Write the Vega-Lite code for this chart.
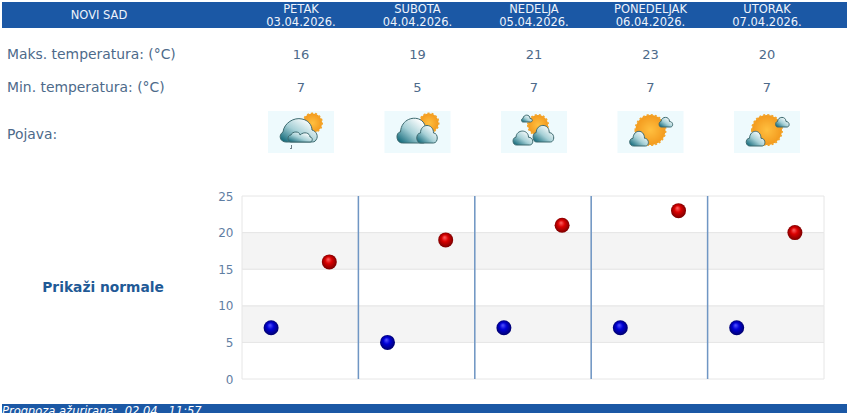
{
  "$schema": "https://vega.github.io/schema/vega-lite/v6.json",
  "width": 850,
  "height": 413,
  "padding": 0,
  "autosize": "none",
  "background": "white",
  "datasets": {
    "grid": [
      {"day": "PETAK", "from": 0, "to": 5, "band": "plain"},
      {"day": "PETAK", "from": 5, "to": 10, "band": "shaded"},
      {"day": "PETAK", "from": 10, "to": 15, "band": "plain"},
      {"day": "PETAK", "from": 15, "to": 20, "band": "shaded"},
      {"day": "PETAK", "from": 20, "to": 25, "band": "plain"},
      {"day": "SUBOTA", "from": 0, "to": 5, "band": "plain"},
      {"day": "SUBOTA", "from": 5, "to": 10, "band": "shaded"},
      {"day": "SUBOTA", "from": 10, "to": 15, "band": "plain"},
      {"day": "SUBOTA", "from": 15, "to": 20, "band": "shaded"},
      {"day": "SUBOTA", "from": 20, "to": 25, "band": "plain"},
      {"day": "NEDELJA", "from": 0, "to": 5, "band": "plain"},
      {"day": "NEDELJA", "from": 5, "to": 10, "band": "shaded"},
      {"day": "NEDELJA", "from": 10, "to": 15, "band": "plain"},
      {"day": "NEDELJA", "from": 15, "to": 20, "band": "shaded"},
      {"day": "NEDELJA", "from": 20, "to": 25, "band": "plain"},
      {"day": "PONEDELJAK", "from": 0, "to": 5, "band": "plain"},
      {"day": "PONEDELJAK", "from": 5, "to": 10, "band": "shaded"},
      {"day": "PONEDELJAK", "from": 10, "to": 15, "band": "plain"},
      {"day": "PONEDELJAK", "from": 15, "to": 20, "band": "shaded"},
      {"day": "PONEDELJAK", "from": 20, "to": 25, "band": "plain"},
      {"day": "UTORAK", "from": 0, "to": 5, "band": "plain"},
      {"day": "UTORAK", "from": 5, "to": 10, "band": "shaded"},
      {"day": "UTORAK", "from": 10, "to": 15, "band": "plain"},
      {"day": "UTORAK", "from": 15, "to": 20, "band": "shaded"},
      {"day": "UTORAK", "from": 20, "to": 25, "band": "plain"}
    ],
    "dividers": [
      {"day": "SUBOTA", "from": 0, "to": 25},
      {"day": "NEDELJA", "from": 0, "to": 25},
      {"day": "PONEDELJAK", "from": 0, "to": 25},
      {"day": "UTORAK", "from": 0, "to": 25}
    ],
    "temps": [
      {"day": "PETAK", "kind": "min", "t": 7},
      {"day": "PETAK", "kind": "max", "t": 16},
      {"day": "SUBOTA", "kind": "min", "t": 5},
      {"day": "SUBOTA", "kind": "max", "t": 19},
      {"day": "NEDELJA", "kind": "min", "t": 7},
      {"day": "NEDELJA", "kind": "max", "t": 21},
      {"day": "PONEDELJAK", "kind": "min", "t": 7},
      {"day": "PONEDELJAK", "kind": "max", "t": 23},
      {"day": "UTORAK", "kind": "min", "t": 7},
      {"day": "UTORAK", "kind": "max", "t": 20}
    ],
    "bars": [
      {"col": -1, "colEnd": 6, "row": 0, "rowEnd": 4},
      {"col": -1, "colEnd": 6, "row": 9, "rowEnd": 11}
    ],
    "headers": [
      {"col": 0.5, "row": 2, "label": "NOVI SAD"},
      {"col": 1, "row": 1, "label": "PETAK"},
      {"col": 1, "row": 3, "label": "03.04.2026."},
      {"col": 2, "row": 1, "label": "SUBOTA"},
      {"col": 2, "row": 3, "label": "04.04.2026."},
      {"col": 3, "row": 1, "label": "NEDELJA"},
      {"col": 3, "row": 3, "label": "05.04.2026."},
      {"col": 4, "row": 1, "label": "PONEDELJAK"},
      {"col": 4, "row": 3, "label": "06.04.2026."},
      {"col": 5, "row": 1, "label": "UTORAK"},
      {"col": 5, "row": 3, "label": "07.04.2026."}
    ],
    "rowLabels": [
      {"col": 0, "row": 5, "label": "Maks. temperatura: (°C)"},
      {"col": 0, "row": 6, "label": "Min. temperatura: (°C)"},
      {"col": 0, "row": 7, "label": "Pojava:"}
    ],
    "values": [
      {"col": 1, "row": 5, "value": 16},
      {"col": 2, "row": 5, "value": 19},
      {"col": 3, "row": 5, "value": 21},
      {"col": 4, "row": 5, "value": 23},
      {"col": 5, "row": 5, "value": 20},
      {"col": 1, "row": 6, "value": 7},
      {"col": 2, "row": 6, "value": 5},
      {"col": 3, "row": 6, "value": 7},
      {"col": 4, "row": 6, "value": 7},
      {"col": 5, "row": 6, "value": 7}
    ],
    "icons": [
      {"col": 1, "row": 7, "layer": "back", "part": "back"},
      {"col": 2, "row": 7, "layer": "back", "part": "back"},
      {"col": 3, "row": 7, "layer": "back", "part": "back"},
      {"col": 4, "row": 7, "layer": "back", "part": "back"},
      {"col": 5, "row": 7, "layer": "back", "part": "back"},
      {"col": 1, "row": 7, "layer": "sun", "part": "sunA"},
      {"col": 2, "row": 7, "layer": "sun", "part": "sunA"},
      {"col": 3, "row": 7, "layer": "sun", "part": "sunB"},
      {"col": 4, "row": 7, "layer": "sun", "part": "sunC"},
      {"col": 5, "row": 7, "layer": "sun", "part": "sunC"},
      {"col": 1, "row": 7, "layer": "cloud", "part": "cloudA"},
      {"col": 1, "row": 7, "layer": "cloud", "part": "cloudA2"},
      {"col": 2, "row": 7, "layer": "cloud", "part": "cloudB"},
      {"col": 2, "row": 7, "layer": "cloud", "part": "cloudB2"},
      {"col": 3, "row": 7, "layer": "cloud", "part": "puffB"},
      {"col": 3, "row": 7, "layer": "cloud", "part": "cloudC"},
      {"col": 3, "row": 7, "layer": "cloud", "part": "cloudC2"},
      {"col": 4, "row": 7, "layer": "cloud", "part": "puffD"},
      {"col": 4, "row": 7, "layer": "cloud", "part": "cloudD"},
      {"col": 5, "row": 7, "layer": "cloud", "part": "puffD"},
      {"col": 5, "row": 7, "layer": "cloud", "part": "cloudD"},
      {"col": 1, "row": 7, "layer": "rain", "part": "rain"}
    ]
  },
  "resolve": {
    "scale": {"x": "independent", "y": "independent"},
    "axis": {"x": "independent", "y": "independent"}
  },
  "layer": [
    {
      "encoding": {
        "x": {
          "field": "day",
          "type": "nominal",
          "sort": null,
          "axis": null,
          "scale": {
            "type": "band",
            "domain": ["PETAK", "SUBOTA", "NEDELJA", "PONEDELJAK", "UTORAK"],
            "range": [242, 824],
            "paddingInner": 0,
            "paddingOuter": 0
          }
        },
        "y": {
          "field": "from",
          "type": "quantitative",
          "scale": {"domain": [0, 25], "range": [379, 196], "nice": false},
          "axis": {
            "title": null,
            "values": [0, 5, 10, 15, 20, 25],
            "offset": -242,
            "domain": false,
            "ticks": false,
            "grid": false,
            "labelPadding": 9,
            "labelFont": "DejaVu Sans",
            "labelFontSize": 12,
            "labelColor": "#5f7ea3"
          }
        }
      },
      "layer": [
        {
          "data": {"name": "grid"},
          "mark": {"type": "rect", "stroke": "#e6e6e6", "strokeWidth": 1, "width": 116.4},
          "encoding": {
            "y2": {"field": "to"},
            "fill": {
              "field": "band",
              "type": "nominal",
              "legend": null,
              "scale": {"domain": ["plain", "shaded"], "range": ["#ffffff", "#f4f4f4"]}
            }
          }
        },
        {
          "data": {"name": "dividers"},
          "mark": {"type": "rule", "color": "#6f96c4", "strokeWidth": 1.5},
          "encoding": {
            "x": {
              "field": "day",
              "type": "nominal",
              "sort": null,
              "bandPosition": 0
            },
            "y2": {"field": "to"}
          }
        },
        {
          "data": {"name": "temps"},
          "transform": [{"filter": "datum.kind === 'min'"}],
          "mark": {
            "type": "circle",
            "size": 225,
            "opacity": 1,
            "fill": {
              "gradient": "radial",
              "x1": 0.42, "y1": 0.32, "r1": 0,
              "x2": 0.5, "y2": 0.5, "r2": 0.55,
              "stops": [
                {"offset": 0, "color": "#5a5aff"},
                {"offset": 0.4, "color": "#0000d8"},
                {"offset": 1, "color": "#00005e"}
              ]
            }
          },
          "encoding": {
            "y": {"field": "t", "type": "quantitative"},
            "xOffset": {
              "field": "kind",
              "type": "nominal",
              "scale": {"type": "point", "domain": ["min", "max"], "padding": 0.5}
            }
          }
        },
        {
          "data": {"name": "temps"},
          "transform": [{"filter": "datum.kind === 'max'"}],
          "mark": {
            "type": "circle",
            "size": 225,
            "opacity": 1,
            "fill": {
              "gradient": "radial",
              "x1": 0.42, "y1": 0.32, "r1": 0,
              "x2": 0.5, "y2": 0.5, "r2": 0.55,
              "stops": [
                {"offset": 0, "color": "#ff6a6a"},
                {"offset": 0.4, "color": "#dc0000"},
                {"offset": 1, "color": "#6e0000"}
              ]
            }
          },
          "encoding": {
            "y": {"field": "t", "type": "quantitative"},
            "xOffset": {
              "field": "kind",
              "type": "nominal",
              "scale": {"type": "point", "domain": ["min", "max"], "padding": 0.5}
            }
          }
        }
      ]
    },
    {
      "encoding": {
        "x": {
          "field": "col",
          "type": "quantitative",
          "axis": null,
          "scale": {
            "domain": [-1, 0, 0.5, 1, 5, 6],
            "range": [2, 7, 99, 301, 767, 847],
            "zero": false,
            "nice": false
          }
        },
        "y": {
          "field": "row",
          "type": "quantitative",
          "axis": null,
          "scale": {
            "domain": [0, 1, 2, 3, 4, 5, 6, 7, 8, 9, 10, 11],
            "range": [2, 9, 15, 22, 28, 54, 87, 134, 288, 404, 412, 414],
            "zero": false,
            "nice": false
          }
        }
      },
      "layer": [
        {
          "data": {"name": "bars"},
          "mark": {"type": "rect", "color": "#1b58a5"},
          "encoding": {"x2": {"field": "colEnd"}, "y2": {"field": "rowEnd"}}
        },
        {
          "data": {"name": "headers"},
          "mark": {"type": "text", "font": "DejaVu Sans", "fontSize": 11.5, "color": "#eef3fb", "align": "center", "baseline": "middle", "dy": 1},
          "encoding": {"text": {"field": "label"}}
        },
        {
          "data": {"name": "rowLabels"},
          "mark": {"type": "text", "font": "DejaVu Sans", "fontSize": 13.9, "color": "#4d6a8a", "align": "left", "baseline": "middle", "dy": 1},
          "encoding": {"text": {"field": "label"}}
        },
        {
          "data": {"name": "values"},
          "mark": {"type": "text", "font": "DejaVu Sans", "fontSize": 13, "color": "#4d6a8a", "align": "center", "baseline": "middle", "dy": 1},
          "encoding": {"text": {"field": "value"}}
        },
        {
          "data": {"values": [{"col": 0.51, "row": 8, "label": "Prikaži normale"}]},
          "mark": {"type": "text", "font": "DejaVu Sans", "fontSize": 13.8, "fontWeight": "bold", "color": "#1f5a96", "align": "center", "baseline": "middle"},
          "encoding": {"text": {"field": "label"}}
        },
        {
          "data": {"values": [{"col": -1, "row": 10, "label": "Prognoza ažurirana: \u00a002.04. \u00a011:57"}]},
          "mark": {"type": "text", "font": "DejaVu Sans", "fontSize": 11.5, "fontStyle": "italic", "color": "#ffffff", "align": "left", "baseline": "middle"},
          "encoding": {"text": {"field": "label"}}
        },
        {
          "data": {"name": "icons"},
          "encoding": {
            "shape": {
              "field": "part",
              "type": "nominal",
              "legend": null,
              "scale": {
                "domain": ["back", "sunA", "sunB", "sunC", "cloudA", "cloudA2", "cloudB", "cloudB2", "puffB", "cloudC", "cloudC2", "puffD", "cloudD", "rain"],
                "range": [
                  "M-33 -23H33V19H-33Z",
                  "M2 -11a9.500 9.500 0 1 0 19 0a9.500 9.500 0 1 0 -19 0Z",
                  "M-6 -9a10 10 0 1 0 20 0a10 10 0 1 0 -20 0Z",
                  "M-15 -4a15 15 0 1 0 30 0a15 15 0 1 0 -30 0Z",
                  "M-15 8C-21 8 -23 1 -18 -2C-17 -11 -7 -17 1 -15C7 -14 11 -9 11 -4C15 -3 18 2 15 6C14 8 12 8 10 8Z",
                  "M-10 8C-14 8 -14 1 -10 1C-9 -3 -1 -3 -1 1C3 -3 9 -1 9 3C12 3 12 8 9 8Z",
                  "M-15 9C-22 9 -22 -2 -17 -2C-16 -20 9 -20 8 -4C11 -3 10 9 6 9Z",
                  "M3 9C-2 9 -2 -1 3 -1C3 -11 16 -11 16 -1C21 -1 21 9 16 9Z",
                  "M-11 -12C-13 -12 -13 -15.500 -11 -15.500C-10.500 -20 -4 -20 -4 -15.500C-1 -15.500 -1 -12 -3.500 -12Z",
                  "M-17.600 11C-22 11 -22 3.300 -18 3.300C-17.600 -5 -5.500 -5 -5.500 3.300C0 3.300 0 11 -4.400 11Z",
                  "M2.600 8C-2 8 -2 -1.350 2.100 -1.350C2.600 -11 15.250 -11 15.250 -1.350C21 -1.350 21 8 16.400 8Z",
                  "M10.500 -7C8 -7 8 -12.500 10.500 -12.500C11 -18 19 -18 19 -12.500C23 -12.500 23 -7 20 -7Z",
                  "M-17 12C-22 12 -22 4.300 -17.500 4.300C-17 -5 -6 -5 -6 4.300C-1 4.300 -1 12 -5 12Z",
                  "M-9 11V15H-11V14H-10V11Z"
                ]
              }
            }
          },
          "layer": [
            {
              "transform": [{"filter": "datum.layer === 'back'"}],
              "mark": {"type": "point", "filled": true, "size": 4, "opacity": 1, "fill": "#eefafd"}
            },
            {
              "transform": [{"filter": "datum.layer === 'sun'"}],
              "mark": {
                "type": "point",
                "filled": true,
                "size": 4,
                "opacity": 1,
                "stroke": "#f3a52a",
                "strokeWidth": 2,
                "strokeDash": [2, 2],
                "fill": {
                  "gradient": "radial",
                  "x1": 0.5, "y1": 0.5, "r1": 0,
                  "x2": 0.5, "y2": 0.5, "r2": 0.5,
                  "stops": [
                    {"offset": 0, "color": "#ffc040"},
                    {"offset": 1, "color": "#f39a1e"}
                  ]
                }
              }
            },
            {
              "transform": [{"filter": "datum.layer === 'cloud'"}],
              "mark": {
                "type": "point",
                "filled": true,
                "size": 4,
                "opacity": 1,
                "stroke": "#3e6b70",
                "strokeWidth": 1,
                "fill": {
                  "gradient": "linear",
                  "x1": 0, "y1": 0.9,
                  "x2": 0.8, "y2": 0.1,
                  "stops": [
                    {"offset": 0, "color": "#0f6778"},
                    {"offset": 0.5, "color": "#a6d0d6"},
                    {"offset": 1, "color": "#ffffff"}
                  ]
                }
              }
            },
            {
              "transform": [{"filter": "datum.layer === 'rain'"}],
              "mark": {"type": "point", "filled": true, "size": 4, "opacity": 1, "fill": "#6d7f88"}
            }
          ]
        }
      ]
    }
  ],
  "config": {"view": {"stroke": null}}
}
